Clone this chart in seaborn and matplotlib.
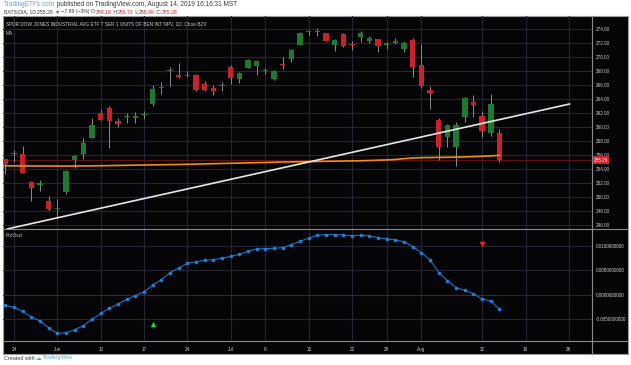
import numpy as np
import pandas as pd
import seaborn as sns
import matplotlib.pyplot as plt
from matplotlib import transforms

# trading-day index of each bar (May 23 .. Aug 14, 2019)
days = list(range(-1, 57))

opens = [255.38, 256.24, 256.14, 252.10, 251.76, 249.38, 248.33, 250.67, 255.29, 256.14,
         258.48, 261.95, 262.71, 260.86, 261.38, 261.33, 261.67, 263.24, 265.52, 268.05,
         267.38, 267.38, 267.43, 266.14, 265.57, 266.00, 268.52, 266.90, 268.43, 268.76,
         267.95, 266.81, 269.00, 269.76, 271.71, 273.62, 273.71, 273.43, 271.71, 273.29,
         271.86, 272.86, 272.33, 272.57, 271.76, 271.95, 271.19, 272.43, 268.86, 265.33,
         261.05, 258.62, 257.19, 261.48, 263.52, 261.52, 259.10, 259.18]
highs = [255.40, 256.70, 257.29, 252.33, 252.43, 250.14, 249.67, 253.86, 256.00, 258.38,
         261.24, 262.52, 263.00, 261.29, 262.05, 262.20, 262.33, 265.95, 266.38, 268.62,
         269.10, 268.00, 267.52, 266.57, 265.95, 266.43, 268.86, 267.90, 269.71, 269.57,
         268.48, 268.14, 270.05, 271.10, 273.57, 273.86, 274.10, 273.48, 272.52, 273.38,
         272.24, 273.71, 273.00, 272.62, 272.19, 272.71, 272.33, 272.67, 271.86, 265.86,
         261.24, 260.43, 260.76, 264.33, 264.57, 262.29, 264.71, 259.73]
lows = [253.29, 255.05, 253.40, 249.50, 250.90, 248.14, 247.10, 250.50, 254.10, 255.50,
        258.38, 261.00, 257.05, 260.05, 260.52, 260.52, 261.10, 263.05, 264.71, 265.90,
        267.05, 267.19, 265.19, 265.19, 264.57, 265.14, 266.14, 266.24, 268.38, 267.43,
        267.57, 266.71, 268.29, 269.33, 271.67, 273.10, 273.05, 272.29, 270.90, 271.48,
        271.00, 272.14, 271.95, 270.67, 271.19, 271.86, 270.76, 267.19, 265.52, 262.52,
        255.29, 257.19, 254.48, 260.76, 261.38, 258.62, 258.71, 255.06]
closes = [254.71, 256.10, 253.48, 251.24, 251.95, 248.24, 248.48, 253.67, 255.81, 257.71,
          260.24, 261.05, 260.90, 260.48, 261.57, 261.52, 261.76, 265.43, 265.67, 268.14,
          267.19, 267.24, 265.29, 265.29, 265.19, 265.90, 267.05, 267.76, 269.57, 269.38,
          268.14, 267.95, 268.81, 271.00, 273.48, 273.71, 273.52, 272.33, 272.38, 271.57,
          271.71, 273.48, 272.76, 271.52, 271.95, 272.24, 272.05, 268.62, 265.86, 264.90,
          257.19, 260.29, 260.29, 264.19, 263.19, 259.48, 263.24, 255.28]

ma = [254.45, 254.45, 254.44, 254.44, 254.43, 254.43, 254.42, 254.42, 254.43, 254.44,
      254.45, 254.47, 254.49, 254.51, 254.53, 254.55, 254.57, 254.59, 254.61, 254.63,
      254.65, 254.67, 254.70, 254.73, 254.76, 254.79, 254.82, 254.85, 254.88, 254.91,
      254.94, 254.97, 255.00, 255.02, 255.04, 255.06, 255.08, 255.10, 255.12, 255.14,
      255.16, 255.18, 255.22, 255.26, 255.30, 255.36, 255.48, 255.58, 255.62, 255.64,
      255.66, 255.68, 255.70, 255.73, 255.77, 255.82, 255.88, 255.95]

osc = [-0.00221, -0.00262, -0.00345, -0.00462, -0.00545, -0.00683, -0.00800, -0.00786,
       -0.00724, -0.00641, -0.00510, -0.00386, -0.00283, -0.00193, -0.00097, -0.00020,
       0.00062, 0.00193, 0.00310, 0.00455, 0.00552, 0.00648, 0.00683, 0.00710, 0.00724,
       0.00752, 0.00793, 0.00834, 0.00897, 0.00945, 0.00952, 0.00959, 0.00972, 0.01034,
       0.01103, 0.01172, 0.01228, 0.01241, 0.01241, 0.01234, 0.01221, 0.01228, 0.01214,
       0.01179, 0.01152, 0.01131, 0.01097, 0.00993, 0.00869, 0.00717, 0.00455, 0.00290,
       0.00145, 0.00090, 0.00020, -0.00097, -0.00124, -0.00303]

trend_days = [-0.8, 64.1]
trend_price = [245.43, 263.29]

buy_day, buy_val = 16, -0.0060
sell_day, sell_val = 54, 0.0105

tick_days = [0, 5, 10, 15, 20, 25, 29, 34, 39, 43, 47, 54, 59, 64]
tick_labels = ['24', 'Jun', '10', '17', '24', 'Jul', '8', '15', '22', '29', 'Aug', '12', '19', '26']
price_ticks = list(range(246, 276, 2))
osc_ticks = [-0.005, 0.0, 0.005, 0.01]

df = pd.DataFrame({'day': days, 'open': opens, 'high': highs, 'low': lows,
                   'close': closes, 'ma': ma, 'osc': osc})

plt.rcParams['font.family'] = ['Liberation Sans', 'DejaVu Sans']

W, H = 631, 365
def rect(x0, y0, x1, y1):
    return [x0 / W, 1 - y1 / H, (x1 - x0) / W, (y1 - y0) / H]

fig = plt.figure(figsize=(W / 100, H / 100), dpi=100)
fig.patch.set_facecolor('white')

BG = '#050507'
GRID = '#25262f'
TXT = '#cfcfcf'
GREEN = '#1f7a2f'
RED = '#c8222a'

bg = fig.add_axes(rect(3, 16, 628, 354))
bg.set_facecolor(BG)
bg.set_xticks([])
bg.set_yticks([])
for s in bg.spines.values():
    s.set_color('#9a9a9a')
    s.set_linewidth(0.8)

ax = fig.add_axes(rect(3, 16, 592, 229))
ax2 = fig.add_axes(rect(3, 229, 592, 341), sharex=ax)
for a in (ax, ax2):
    a.set_facecolor('none')
    for s in a.spines.values():
        s.set_visible(False)
    a.grid(True, color=GRID, linewidth=0.8)
    a.set_axisbelow(True)

# separators
fig.add_artist(plt.Line2D([592 / W, 592 / W], [1 - 16 / H, 1 - 354 / H], color='#8a8a8a', lw=0.8))
fig.add_artist(plt.Line2D([3 / W, 628 / W], [1 - 229 / H, 1 - 229 / H], color='#8a8a8a', lw=0.8))
fig.add_artist(plt.Line2D([3 / W, 628 / W], [1 - 341 / H, 1 - 341 / H], color='#8a8a8a', lw=0.8))

# candles
up = df['close'] >= df['open']
colors = np.where(up, GREEN, RED)
ax.vlines(df['day'], df['low'], df['high'], color='#8c8c8c', lw=0.7, zorder=2)
body = (df['close'] - df['open']).abs().clip(lower=0.12)
ax.bar(df['day'], body, bottom=df[['open', 'close']].min(axis=1), width=0.62,
       color=colors, edgecolor='none', zorder=3)

# last price line
last = closes[-1]
ax.axhline(last, color='#5c1216', lw=0.8, zorder=1)

# moving average and trend line
sns.lineplot(data=df, x='day', y='ma', ax=ax, color='#f28c0f', lw=1.2, zorder=4)
ax.plot(trend_days, trend_price, color='#e6e6e6', lw=1.2, zorder=5, solid_capstyle='round')

ax.set_xlim(-1.27, 66.67)
ax.set_ylim(245.43, 275.86)
ax.yaxis.tick_right()
ax.set_yticks(price_ticks)
ax.set_yticklabels([f'{v:.2f}' for v in price_ticks])
ax.tick_params(axis='y', length=0, pad=3, labelsize=3.3, labelcolor=TXT)
ax.tick_params(axis='x', length=0, labelbottom=False)
ax.set_xlabel('')
ax.set_ylabel('')

blend = transforms.blended_transform_factory(ax.transAxes, ax.transData)
ax.text(1.0025, last, f'{last:.2f}', transform=blend, ha='left', va='center',
        fontsize=3.3, color='white', zorder=10,
        bbox=dict(facecolor='#d3222a', edgecolor='none', boxstyle='square,pad=0.35'))

ax.text(0.005, 0.965, 'SPDR DOW JONES INDUSTRIAL AVG ETF T SER 1 UNITS OF BEN INT NPV, 1D, Cboe BZX',
        transform=ax.transAxes, fontsize=3.4, color=TXT, va='center', ha='left')
ax.text(0.005, 0.918, 'MA', transform=ax.transAxes, fontsize=3.4, color=TXT, va='center', ha='left')

# oscillator
ax2.hlines(0, days[0], days[-1], color='#6a1418', lw=0.8, zorder=1)
sns.lineplot(data=df, x='day', y='osc', ax=ax2, color='#1e7fd8', lw=0.7,
             marker='o', markersize=2.6, markeredgewidth=0, zorder=3)
ax2.scatter([buy_day], [buy_val], marker='^', s=16, color='#12e012', zorder=4, linewidths=0)
ax2.scatter([sell_day], [sell_val], marker='v', s=16, color='#ff1e1e', zorder=4, linewidths=0)

ax2.set_ylim(-0.00957, 0.01357)
ax2.yaxis.tick_right()
ax2.set_yticks(osc_ticks)
ax2.set_yticklabels([f'{v:.10f}' for v in osc_ticks])
ax2.tick_params(axis='y', length=0, pad=3, labelsize=3.3, labelcolor=TXT)
ax2.set_xticks(tick_days)
ax2.set_xticklabels(tick_labels)
ax2.tick_params(axis='x', length=0, pad=4.5, labelsize=3.3, labelcolor=TXT)
ax2.set_xlabel('')
ax2.set_ylabel('')
ax2.text(0.005, 0.94, 'ProOsci', transform=ax2.transAxes, fontsize=3.4, color=TXT,
         va='center', ha='left')

# header and footer text, drawn piece by piece
fig.canvas.draw()
renderer = fig.canvas.get_renderer()

def write_run(x_px, y_px, parts, size):
    x = x_px / W
    for s, c in parts:
        t = fig.text(x, 1 - y_px / H, s, color=c, fontsize=size, va='center', ha='left')
        bb = t.get_window_extent(renderer)
        x += bb.width / W

DARK = '#3a3a3a'
LRED = '#d3222a'
write_run(4, 5, [('TradingETFs.com', '#5aa7e6'),
                 (' published on TradingView.com, August 14, 2019 16:16:31 MST', DARK)], 4.7)
write_run(4, 12, [('BATS:DIA, 1D ', DARK), ('255.28 ', DARK), ('\u25bc', LRED),
                  (' \u22127.89 (\u22123%) O:', DARK), ('259.18', LRED), (' H:', DARK),
                  ('259.73', LRED), (' L:', DARK), ('255.06', LRED), (' C:', DARK),
                  ('255.28', LRED)], 3.7)
write_run(4, 358, [('Created with ', DARK), ('\u2601 ', '#5aa7e6'), ('TradingView', '#5aa7e6')], 4.0)

fig.savefig('out.png', dpi=100, facecolor='white')
